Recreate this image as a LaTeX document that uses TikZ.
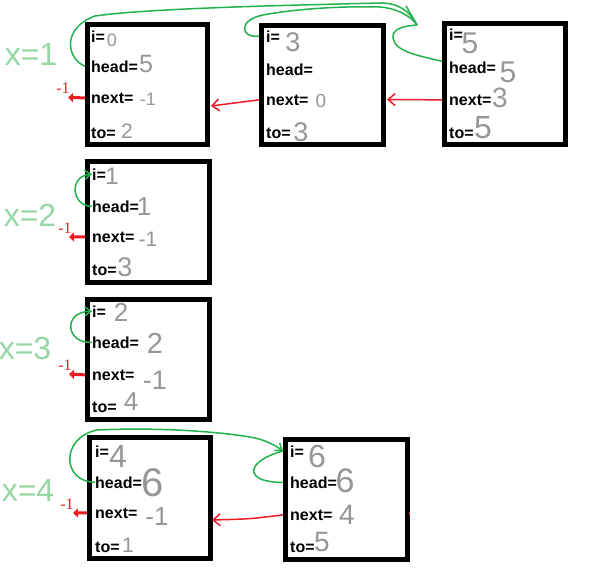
\documentclass[tikz,border=0pt]{standalone}
\usepackage{fontspec}
\setmainfont{Liberation Sans}
\newfontfamily\redserif{Liberation Serif}
\usetikzlibrary{arrows.meta}
\definecolor{pgreen}{RGB}{34,177,76}
\definecolor{pred}{RGB}{237,28,36}
\definecolor{lgreen}{RGB}{150,215,165}
\definecolor{vgray}{RGB}{150,150,150}
\tikzset{
  box/.style={draw=black, line width=5pt, inner sep=0pt},
  lbl/.style={anchor=base west, inner sep=0pt, font=\bfseries\fontsize{16}{18}\selectfont},
  val/.style={inner sep=0pt, text=vgray, font=\fontsize{#1}{#1}\selectfont},
  xlab/.style={inner sep=0pt, text=lgreen, font=\fontsize{32}{32}\selectfont},
  mlab/.style={inner sep=0pt, text=pred, font=\redserif\fontsize{16}{16}\selectfont},
  grn/.style={draw=pgreen, line width=1.5pt},
  grnarr/.style={grn, -{Straight Barb[length=6pt,width=9pt]}},
  thinred/.style={draw=pred, line width=1.5pt, -{Straight Barb[length=7pt,width=12pt]}},
  thickred/.style={draw=pred, line width=3pt, -{Triangle[length=5pt,width=9pt]}},
}
\begin{document}
\begin{tikzpicture}[x=1pt,y=-1pt]
\fill[white] (0,0) rectangle (598,570);
\useasboundingbox (0,0) rectangle (598,570);

% boxes
\node[box, minimum width=120pt, minimum height=120pt] (b1) at (147.5,84.5) {};
\node[box, minimum width=122pt, minimum height=119pt] (b2) at (322.5,85) {};
\node[box, minimum width=121pt, minimum height=121pt] (b3) at (505,84) {};
\node[box, minimum width=122pt, minimum height=121pt] (b4) at (148.5,222) {};
\node[box, minimum width=122pt, minimum height=120pt] (b5) at (148.5,359.5) {};
\node[box, minimum width=121pt, minimum height=121pt] (b6) at (150,498) {};
\node[box, minimum width=122pt, minimum height=120pt] (b7) at (346.5,499.5) {};

% labels
\node[lbl] (b1i) at (91,42) {i=};
\node[lbl] (b1h) at (91,72) {head=};
\node[lbl] (b1n) at (91,103) {next=};
\node[lbl] (b1t) at (91,138) {to=};
\node[lbl] (b2i) at (266,42) {i=};
\node[lbl] (b2h) at (266,75) {head=};
\node[lbl] (b2n) at (266,105) {next=};
\node[lbl] (b2t) at (266,138) {to=};
\node[lbl] (b3i) at (449,40) {i=};
\node[lbl] (b3h) at (449,73) {head=};
\node[lbl] (b3n) at (449,105) {next=};
\node[lbl] (b3t) at (449,138) {to=};
\node[lbl] (b4i) at (92,180) {i=};
\node[lbl] (b4h) at (92,212) {head=};
\node[lbl] (b4n) at (92,242) {next=};
\node[lbl] (b4t) at (92,275) {to=};
\node[lbl] (b5i) at (92,317) {i=};
\node[lbl] (b5h) at (92,348) {head=};
\node[lbl] (b5n) at (92,380) {next=};
\node[lbl] (b5t) at (92,412) {to=};
\node[lbl] (b6i) at (95,457) {i=};
\node[lbl] (b6h) at (95,488) {head=};
\node[lbl] (b6n) at (95,518) {next=};
\node[lbl] (b6t) at (95,552) {to=};
\node[lbl] (b7i) at (290,457) {i=};
\node[lbl] (b7h) at (290,488) {head=};
\node[lbl] (b7n) at (290,520) {next=};
\node[lbl] (b7t) at (290,552) {to=};

% handwritten values
\node[val=18] (v1i) at (112,40) {0};
\node[val=25] (v1h) at (146,64) {5};
\node[val=18] (v1n) at (148,99) {-1};
\node[val=21] (v1t) at (127,131) {2};
\node[val=27] (v2i) at (293,42) {3};
\node[val=19] (v2n) at (321,101) {0};
\node[val=27] (v2t) at (301,132) {3};
\node[val=30] (v3i) at (470,43) {5};
\node[val=30] (v3h) at (508,72) {5};
\node[val=28] (v3n) at (500,98) {3};
\node[val=32] (v3t) at (483,128) {5};
\node[val=24] (v4i) at (112,176) {1};
\node[val=26] (v4h) at (144,207) {1};
\node[val=21] (v4n) at (148,239) {-1};
\node[val=27] (v4t) at (125,267) {3};
\node[val=26] (v5i) at (121,312) {2};
\node[val=29] (v5h) at (155,343) {2};
\node[val=27] (v5n) at (155,380) {-1};
\node[val=26] (v5t) at (131,402) {4};
\node[val=32] (v6i) at (118,456) {4};
\node[val=40] (v6h) at (153,483) {6};
\node[val=26] (v6n) at (157,517) {-1};
\node[val=21] (v6t) at (128,545) {1};
\node[val=32] (v7i) at (317,456) {6};
\node[val=34] (v7h) at (345,481) {6};
\node[val=28] (v7n) at (347,515) {4};
\node[val=28] (v7t) at (322,542) {5};

% x labels
\node[xlab] (x1) at (31,54) {x=1};
\node[xlab] (x2) at (30,215) {x=2};
\node[xlab] (x3) at (25,348) {x=3};
\node[xlab] (x4) at (28,490) {x=4};

% -1 labels and thick red arrows
\node[mlab] (m1) at (63,88) {-1};
\node[mlab] (m4) at (65,228) {-1};
\node[mlab] (m5) at (65,365) {-1};
\node[mlab] (m6) at (67,504) {-1};
\coordinate (e1) at (68,97.5);
\coordinate (e4) at (69,237);
\coordinate (e5) at (69,374);
\coordinate (e6) at (73,513);
\draw[thickred] (b1.west |- b1n.west) -- (e1);
\draw[thickred] (b4.west |- b4n.west) -- (e4);
\draw[thickred] (b5.west |- b5n.west) -- (e5);
\draw[thickred] (b6.west |- b6n.west) -- (e6);

% thin red arrows between boxes
\coordinate (r1) at (211,106);
\coordinate (r2) at (387,99.5);
\coordinate (r3) at (212,520);
\draw[thinred] (b2.west |- b2n.west) -- (r1);
\draw[thinred] (b3.west |- b3n.west) -- (r2);
\draw[thinred] (b7.west |- b7n.west) .. controls (250,519) .. (r3);
\draw[draw=pred, line width=1.5pt] (409.5,512) -- (409.5,515);

% green curves, top row
\coordinate (tip1) at (417,25);
\coordinate (barb1) at (406,6);
\draw[grn] (b1.west |- b1h.west) .. controls (66,58) and (62,28) .. (95,16)
  .. controls (150,8) and (300,5) .. (380,3) .. controls (400,3) and (410,12) .. (tip1);
\draw[grn] (b2.west |- b2i.west) .. controls (240,38) and (238,20) .. (263,15)
  .. controls (300,8) and (350,6) .. (380,7) .. controls (395,8) and (410,15) .. (tip1);
\draw[grn] (tip1) -- (barb1);
\draw[grn] (b3.west |- b3h.north) .. controls (420,56) and (395,52) .. (393,38)
  .. controls (392,28) and (405,26) .. (tip1);

% green curves, single boxes
\draw[grnarr] (b4h.west) .. controls (72,207) and (68,176) .. (b4i.west);
\draw[grnarr] (b5h.west) .. controls (66,344) and (62,312) .. (b5i.west);

% green curves, bottom row
\coordinate (tip2) at (283,451);
\draw[grnarr] (b6h.west) .. controls (62,482) and (60,438) .. (97,430)
  .. controls (160,427) and (225,432) .. (255,438) .. controls (268,441) and (276,446) .. (tip2);
\draw[grn] (b7.west |- b7h.west) .. controls (245,483) and (243,462) .. (tip2);
\end{tikzpicture}
\end{document}
